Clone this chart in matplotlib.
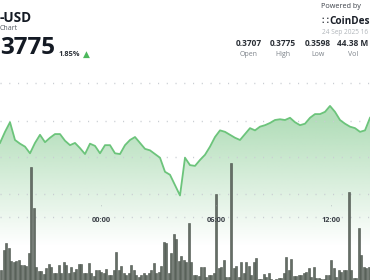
import numpy as np
import matplotlib
matplotlib.use("Agg")
import matplotlib.pyplot as plt
from matplotlib.patches import Polygon

# ---------------- data ----------------
pair = "-USD"
subtitle = "Chart"
last_price = "3775"
change_pct = "1.85%"
stat_values = ["0.3707", "0.3775", "0.3598", "44.38 M"]
stat_labels = ["Open", "High", "Low", "Vol"]
brand = "CoinDes"
stamp = "24 Sep 2025 16"
tick_labels = ["00:00", "06:00", "12:00"]
tick_hours = [0, 6, 12]

# price closes (USD), ~15.65 min apart, starting at -5.27 h
prices = [0.3669, 0.3684, 0.3697, 0.3673, 0.3668, 0.3664, 0.3655, 0.3669, 0.3680, 0.3670,
          0.3676, 0.3681, 0.3681, 0.3672, 0.3666, 0.3669, 0.3662, 0.3654, 0.3668, 0.3665,
          0.3655, 0.3666, 0.3666, 0.3655, 0.3654, 0.3666, 0.3673, 0.3677, 0.3669, 0.3661,
          0.3659, 0.3654, 0.3649, 0.3630, 0.3626, 0.3612, 0.3598, 0.3649, 0.3639, 0.3638,
          0.3646, 0.3653, 0.3664, 0.3677, 0.3686, 0.3684, 0.3680, 0.3676, 0.3673, 0.3681,
          0.3689, 0.3686, 0.3691, 0.3693, 0.3696, 0.3700, 0.3701, 0.3700, 0.3703, 0.3697,
          0.3693, 0.3695, 0.3703, 0.3708, 0.3708, 0.3711, 0.3719, 0.3711, 0.3700, 0.3695,
          0.3691, 0.3689, 0.3684, 0.3686, 0.3703]

# volume per bar (units of 10k), ~7.8 min apart
volumes = [10, 30, 37, 32, 19, 18, 19, 20, 15, 15, 14, 27, 113, 72,
           13, 9, 9, 6, 12, 16, 13, 7, 7, 15, 7, 18, 15, 7, 13, 8, 11, 16, 16, 7, 7, 17,
           7, 4, 10, 10, 8, 7, 11, 5, 5, 10, 28, 10, 14, 7,
           5, 7, 15, 10, 5, 3, 5, 7, 5, 7, 10, 17, 7, 8, 14, 38, 37, 7, 27, 46,
           41, 19, 24, 20, 18, 57, 18, 5, 5, 4, 13, 13, 3, 5, 5, 7, 86, 12, 13, 20,
           3, 3, 117, 12, 14, 3, 18, 7,
           18, 14, 5, 18, 22, 1, 1, 6, 3, 7, 1, 0, 1, 2, 2, 7, 23, 10, 21, 4,
           4, 5, 5, 7, 8, 12, 3, 13, 2, 2, 1, 1, 5, 5, 20, 12, 3, 10, 8, 10,
           10, 88, 10, 2, 2, 52, 25, 13, 12, 13, 20]

# ---------------- layout ----------------
W, H = 370, 280
fig = plt.figure(figsize=(W / 100, H / 100), dpi=100)
plt.rcParams['font.family'] = ['Open Sans', 'DejaVu Sans']

x_left, x_right = -5.27, 14.03
px_per_h = W / (x_right - x_left)
price_step = 5 / px_per_h
bar_step = 2.5 / px_per_h

p_bottom, p_top = 0.348378, 0.386216

ax = fig.add_axes([0, 0, 1, 1])
ax.set_xlim(x_left, x_right)
ax.set_ylim(p_bottom, p_top)
ax.axis('off')

t_price = x_left + np.arange(len(prices)) * price_step
pr = np.array(prices)

# gradient fill under the line
rgba = np.zeros((256, 1, 4))
rgba[..., 0] = 0x7c / 255
rgba[..., 1] = 0xc6 / 255
rgba[..., 2] = 0x88 / 255
y_img = np.linspace(p_top, p_bottom, 256)
a = np.clip((y_img - 0.3530) / (0.3700 - 0.3530), 0, 1) * 0.58
rgba[:, 0, 3] = a
im = ax.imshow(rgba, extent=[x_left, x_right, p_bottom, p_top], aspect='auto',
               origin='upper', zorder=1, interpolation='bilinear')
verts = np.column_stack([np.r_[t_price[0], t_price, t_price[-1]],
                         np.r_[p_bottom, pr, p_bottom]])
poly = Polygon(verts, closed=True, facecolor='none', edgecolor='none')
ax.add_patch(poly)
im.set_clip_path(poly)

# gridlines (dotted)
for py in [83, 121, 157, 194, 217]:
    ax.axhline(p_top - (p_top - p_bottom) * py / H, color='#c9cdd2', lw=1.0,
               ls=(0, (0.8, 5.5)), zorder=2)

# volume bars
axv = ax.twinx()
axv.set_ylim(0, H)
axv.set_xlim(x_left, x_right)
axv.axis('off')
t_bar = x_left + (np.arange(len(volumes)) + 0.5) * bar_step
axv.bar(t_bar, volumes, width=bar_step * 0.82, color='#656e66',
        edgecolor='#4a524b', linewidth=0.4, zorder=3)

# price line
ax2 = fig.add_axes([0, 0, 1, 1], sharex=ax)
ax2.set_ylim(p_bottom, p_top)
ax2.axis('off')
ax2.plot(t_price, pr, color='#6cc47b', lw=1.3, zorder=5, solid_joinstyle='round')

# x tick labels and small tick marks
for h, lab in zip(tick_hours, tick_labels):
    xp = (h - x_left) * px_per_h
    fig.text(xp / W, 1 - 220 / H, lab, ha='center', va='center', fontsize=5.3,
             color='#3a3f47', fontweight='bold')
    fig.text(xp / W, 1 - 207 / H, "'", ha='center', va='center', fontsize=4,
             color='#9aa0a6')


def T(px, py, s, **kw):
    fig.text(px / W, 1 - py / H, s, **kw)


# header
T(0, 18, pair, ha='left', va='center', fontsize=9.8, fontweight='bold', color='#141a24')
T(0, 28.5, subtitle, ha='left', va='center', fontsize=5.0, color='#555b63')
T(0.5, 47.5, last_price, ha='left', va='center', fontsize=17.5, fontweight='bold',
  color='#141a24')
T(59, 54, change_pct, ha='left', va='center', fontsize=5.3, fontweight='bold',
  color='#2a2f36')
T(86.5, 54, "\u25B2", ha='center', va='center', fontsize=6.5, color='#4cb85c')

T(321, 7, "Powered by", ha='left', va='center', fontsize=5.2, color='#3a3f47')
T(329, 21, brand, ha='left', va='center', fontsize=7.2, fontweight='bold',
  color='#1a1f28')
T(325, 21, "\u2237", ha='center', va='center', fontsize=8, color='#1a1f28',
  family='DejaVu Sans')
T(321.5, 33, stamp, ha='left', va='center', fontsize=4.7, color='#b0b5ba')

stat_x = [249, 283, 318, 353]
for sx, v, l in zip(stat_x, stat_values, stat_labels):
    T(sx, 44, v, ha='center', va='center', fontsize=6.0, fontweight='bold', color='#2a2f36')
    T(sx, 54, l, ha='center', va='center', fontsize=5.0, color='#7d838a')

fig.savefig("out.png", dpi=100)
